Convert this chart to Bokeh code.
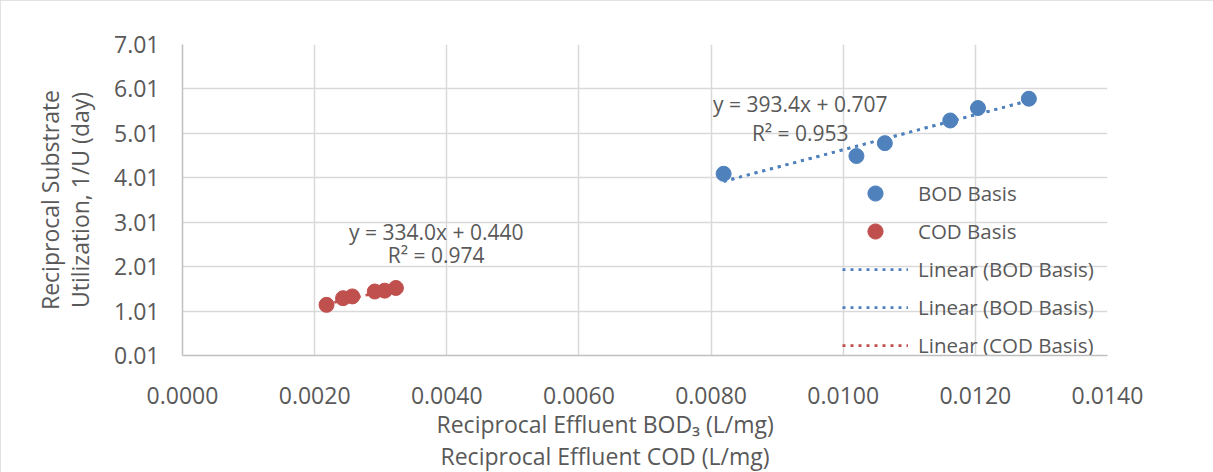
import numpy as np
from bokeh.plotting import figure
from bokeh.models import (Range1d, FixedTicker, NumeralTickFormatter, Legend,
                          LegendItem, Label, Title)
from bokeh.embed import file_html
from bokeh.resources import INLINE

# ---- data ----
bod_x = [0.00819, 0.01020, 0.01063, 0.01162, 0.01204, 0.01281]
bod_y = [4.10, 4.50, 4.79, 5.30, 5.58, 5.79]
cod_x = [0.00218, 0.00243, 0.00257, 0.00291, 0.00306, 0.00323]
cod_y = [1.15, 1.30, 1.34, 1.45, 1.47, 1.53]

bod_fit = [393.4, 0.707]   # slope, intercept
cod_fit = [334.0, 0.440]
bod_r2 = 0.953
cod_r2 = 0.974

x_ticks = [0.0, 0.002, 0.004, 0.006, 0.008, 0.010, 0.012, 0.014]
y_ticks = [0.01, 1.01, 2.01, 3.01, 4.01, 5.01, 6.01, 7.01]

x_title_lines = ["Reciprocal Effluent BOD\u2083 (L/mg)", "Reciprocal Effluent COD (L/mg)"]
y_title = "Reciprocal Substrate\nUtilization, 1/U (day)"

BLUE = "#4f81bd"
RED = "#c0504d"
TXT = "#595959"
GRID = "#d9d9d9"
FONT = "Open Sans"

p = figure(width=1213, height=472, output_backend="svg", toolbar_location=None,
           x_range=Range1d(x_ticks[0], x_ticks[-1]),
           y_range=Range1d(y_ticks[0], y_ticks[-1]),
           min_border_left=182, min_border_right=106,
           min_border_top=44, min_border_bottom=117)
p.outline_line_color = None
p.background_fill_color = "white"
p.border_fill_color = "white"
p.styles = {"outline": "2px solid #d9d9d9", "outline-offset": "-2px"}

p.xaxis.ticker = FixedTicker(ticks=x_ticks)
p.yaxis.ticker = FixedTicker(ticks=y_ticks)
p.xaxis.formatter = NumeralTickFormatter(format="0.0000")
p.yaxis.formatter = NumeralTickFormatter(format="0.00")

for ax in (p.xaxis, p.yaxis):
    ax.major_tick_line_color = None
    ax.minor_tick_line_color = None
    ax.axis_line_color = "#bfbfbf"
    ax.axis_line_width = 1.5
    ax.major_label_text_font = FONT
    ax.major_label_text_font_size = "23px"
    ax.major_label_text_color = TXT
    ax.axis_label_text_font = FONT
    ax.axis_label_text_font_size = "23px"
    ax.axis_label_text_color = TXT
    ax.axis_label_text_font_style = "normal"

p.xaxis.major_label_standoff = 25
p.yaxis.major_label_standoff = 17
p.yaxis.axis_label = y_title
p.yaxis.axis_label_standoff = 15
p.yaxis.axis_label_text_line_height = 0.95

# x-axis title: two lines centred on the whole chart
for line, off, so in zip(x_title_lines, [254, 258], [-1, -3]):
    p.add_layout(Title(text=line, align="left", offset=off, standoff=so,
                       text_font=FONT, text_font_size="23px",
                       text_font_style="normal", text_color=TXT), "below")

p.grid.grid_line_color = GRID
p.grid.grid_line_width = 1.5

# trendlines
def trend(xs, fit):
    xx = np.array([min(xs), max(xs)])
    return xx, fit[0] * xx + fit[1]

bx, by = trend(bod_x, bod_fit)
cx, cy = trend(cod_x, cod_fit)
dash = dict(line_width=2.75, line_dash="3 5")
t_bod1 = p.line(bx, by, line_color=BLUE, **dash)
t_bod2 = p.line(bx, by, line_color=BLUE, **dash)
t_cod = p.line(cx, cy, line_color=RED, **dash)

s_bod = p.scatter(bod_x, bod_y, size=15, fill_color=BLUE, line_color=BLUE)
s_cod = p.scatter(cod_x, cod_y, size=15, fill_color=RED, line_color=RED)

# equation labels
lab_kw = dict(text_font=FONT, text_font_size="21px", text_color=TXT,
              text_align="center", text_baseline="middle")
p.add_layout(Label(x=0.00935, y=5.68,
                   text=f"y = {bod_fit[0]:.1f}x + {bod_fit[1]:.3f}", **lab_kw))
p.add_layout(Label(x=0.00935, y=5.01, text=f"R² = {bod_r2:.3f}", **lab_kw))
p.add_layout(Label(x=0.00384, y=2.78,
                   text=f"y = {cod_fit[0]:.1f}x + {cod_fit[1]:.3f}", **lab_kw))
p.add_layout(Label(x=0.00384, y=2.27, text=f"R² = {cod_r2:.3f}", **lab_kw))

legend = Legend(items=[
    LegendItem(label="BOD Basis", renderers=[s_bod]),
    LegendItem(label="COD Basis", renderers=[s_cod]),
    LegendItem(label="Linear (BOD Basis)", renderers=[t_bod1]),
    LegendItem(label="Linear (BOD Basis)", renderers=[t_bod2]),
    LegendItem(label="Linear (COD Basis)", renderers=[t_cod]),
], location=(660, -9))
legend.border_line_color = None
legend.background_fill_alpha = 0
legend.padding = 0
legend.margin = 0
legend.spacing = 0
legend.glyph_width = 66
legend.glyph_height = 38
legend.label_height = 38
legend.label_standoff = 10
legend.label_text_font = FONT
legend.label_text_font_size = "20.5px"
legend.label_text_color = TXT
p.add_layout(legend)

open("out.html", "w").write(file_html(p, INLINE))
